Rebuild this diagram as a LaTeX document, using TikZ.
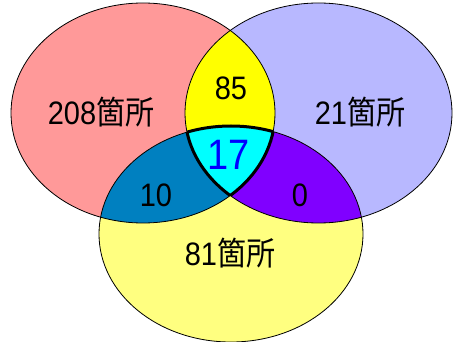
\documentclass[tikz,border=0pt]{standalone}
\usepackage{fontspec}
\usepackage{graphicx}
\setmainfont{Liberation Sans}
\newfontfamily\cjk{Noto Sans CJK JP}
\definecolor{cred}{HTML}{FF9999}
\definecolor{cblue}{HTML}{B8B8FF}
\definecolor{cyel}{HTML}{FFFF80}
\definecolor{crb}{HTML}{FFFF00}
\definecolor{cry}{HTML}{0080C0}
\definecolor{cby}{HTML}{8000FF}
\definecolor{call}{HTML}{00FFFF}
\definecolor{ctxt}{HTML}{0000FF}
\newcommand{\tall}[1]{\scalebox{1}[1.12]{#1}}
\begin{document}
\begin{tikzpicture}[x=1pt,y=-1pt,
  lbl/.style={inner sep=0pt, font=\fontsize{29}{31}\selectfont},
  big/.style={inner sep=0pt, text=ctxt, font=\fontsize{38}{40}\selectfont},
  edge/.style={draw=black, line width=0.8pt}]
\useasboundingbox (0,0) rectangle (461,342);
\def\red{(143,113) ellipse [x radius=132pt, y radius=110pt]}
\def\blu{(318.5,113) ellipse [x radius=133.5pt, y radius=110pt]}
\def\yel{(231,234) ellipse [x radius=132pt, y radius=108pt]}
% base fills
\fill[cred] \red;
\fill[cblue] \blu;
\fill[cyel] \yel;
% pairwise
\begin{scope}\clip \red; \fill[crb] \blu; \end{scope}
\begin{scope}\clip \red; \fill[cry] \yel; \end{scope}
\begin{scope}\clip \blu; \fill[cby] \yel; \end{scope}
\begin{scope}\clip \red; \clip \blu; \fill[call] \yel; \end{scope}
% outlines
\draw[edge] \red;
\draw[edge] \blu;
\draw[edge] \yel;
\begin{scope}\clip \red; \clip \blu; \draw[line width=3pt] \yel; \end{scope}
\begin{scope}\clip \red; \clip \yel; \draw[line width=3pt] \blu; \end{scope}
\begin{scope}\clip \blu; \clip \yel; \draw[line width=3pt] \red; \end{scope}
% labels
\node[lbl] (a) at (101,112) {\tall{208{\cjk 箇所}}};
\node[lbl] (b) at (360,112) {\tall{21{\cjk 箇所}}};
\node[lbl] (c) at (230,253) {\tall{81{\cjk 箇所}}};
\node[lbl] (ab) at (231,88) {\tall{85}};
\node[lbl] (ac) at (156,195) {\tall{10}};
\node[lbl] (bc) at (300,195) {\tall{0}};
\node[big] (abc) at (229,155) {\tall{17}};
\end{tikzpicture}
\end{document}
